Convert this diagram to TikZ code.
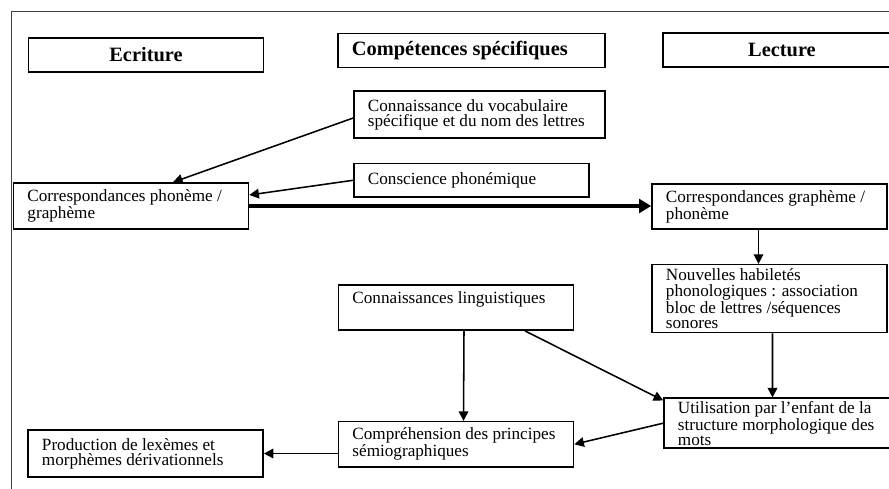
\documentclass[tikz,border=0pt]{standalone}
\usepackage{fontspec}
\setmainfont{Liberation Serif}
\usepackage{tikz}
\usetikzlibrary{arrows.meta, positioning, calc}

\begin{document}
\begin{tikzpicture}[
    x=0.025cm, y=-0.025cm,
    font=\fontsize{12.2}{10.7}\selectfont,
    box/.style={rectangle, draw, line width=1.1pt, inner xsep=0.35cm, inner ysep=2pt, align=flush left, text width=5.175cm},
    head/.style={box, font=\fontsize{14.5}{14.5}\selectfont\bfseries, minimum height=0.86cm},
    arrow/.style={-{Triangle[length=2.4mm, width=2.4mm]}, line width=1.1pt},
    bigarrow/.style={-{Triangle[length=3mm, width=3.4mm]}, line width=2.8pt},
    frame/.style={draw=black!75, line width=0.6pt}
]
\useasboundingbox (0,0) rectangle (889,488);
\draw[frame] (11,11) rectangle (900,500);

% titres des colonnes
\node[head, align=center] (ecriture) at (146,55) {Ecriture};
\node[head, text width=5.975cm] (competences) at (471.5,50.5) {Compétences spécifiques};
\node[head, align=center, text width=5.25cm] (lecture) at (782,50) {Lecture};

% colonne centrale
\node[box, text width=5.575cm, minimum height=1.18cm] (vocab) at (479.5,114.5) {Connaissance du vocabulaire\\ spécifique et du nom des lettres};
\node[box, below=0.6cm of vocab.south west, anchor=north west, minimum height=0.83cm] (conscience) {Conscience phonémique};
\node[box, minimum height=1.13cm] (linguist) at (456,307.5) {Connaissances linguistiques\\ \strut};
\node[box, below=2.25cm of linguist, minimum height=1.13cm] (semio) {Compréhension des principes\\ sémiographiques};

% colonne Ecriture
\node[box, minimum height=1.15cm] (phongraph) at (131,206) {Correspondances phonème /\\ graphème};
\node[box, minimum height=1.18cm] (production) at (145.5,453.5) {Production de lexèmes et\\ morphèmes dérivationnels};

% colonne Lecture
\node[box, minimum height=1.13cm] (graphphon) at (769.5,206.5) {Correspondances graphème /\\ phonème};
\node[box, below=0.85cm of graphphon, minimum height=1.7cm] (habiletes) {Nouvelles habiletés\\ phonologiques : association\\ bloc de lettres /séquences\\ sonores};
\node[box, below=1.6cm of habiletes, xshift=0.3cm, minimum height=1.2cm] (morpho) {Utilisation par l'enfant de la\\ structure morphologique des\\ mots};

\draw[arrow] ($(vocab.west)+(0,3.5)$) -- ($(phongraph.north)+(42,0)$);
\draw[arrow] (conscience.west) -- ($(phongraph.east)+(0,-11)$);
\draw[bigarrow] (phongraph.east) -- (phongraph.east -| graphphon.west);
\draw[arrow] ($(graphphon.south)+(-11,0)$) -- ($(habiletes.north)+(-11,0)$);
\draw[arrow] ($(habiletes.south)+(3,0)$) -- ($(morpho.north)+(-9,0)$);
\draw[arrow] ($(linguist.south)+(8,0)$) -- ($(semio.north)+(7.5,0)$);
\draw[arrow] ($(linguist.south)+(69,0)$) -- ($(morpho.north west)+(0,3)$);
\draw[arrow] (morpho.west) -- (semio.east);
\draw[arrow] (semio.west |- production.east) -- (production.east);
\end{tikzpicture}
\end{document}
